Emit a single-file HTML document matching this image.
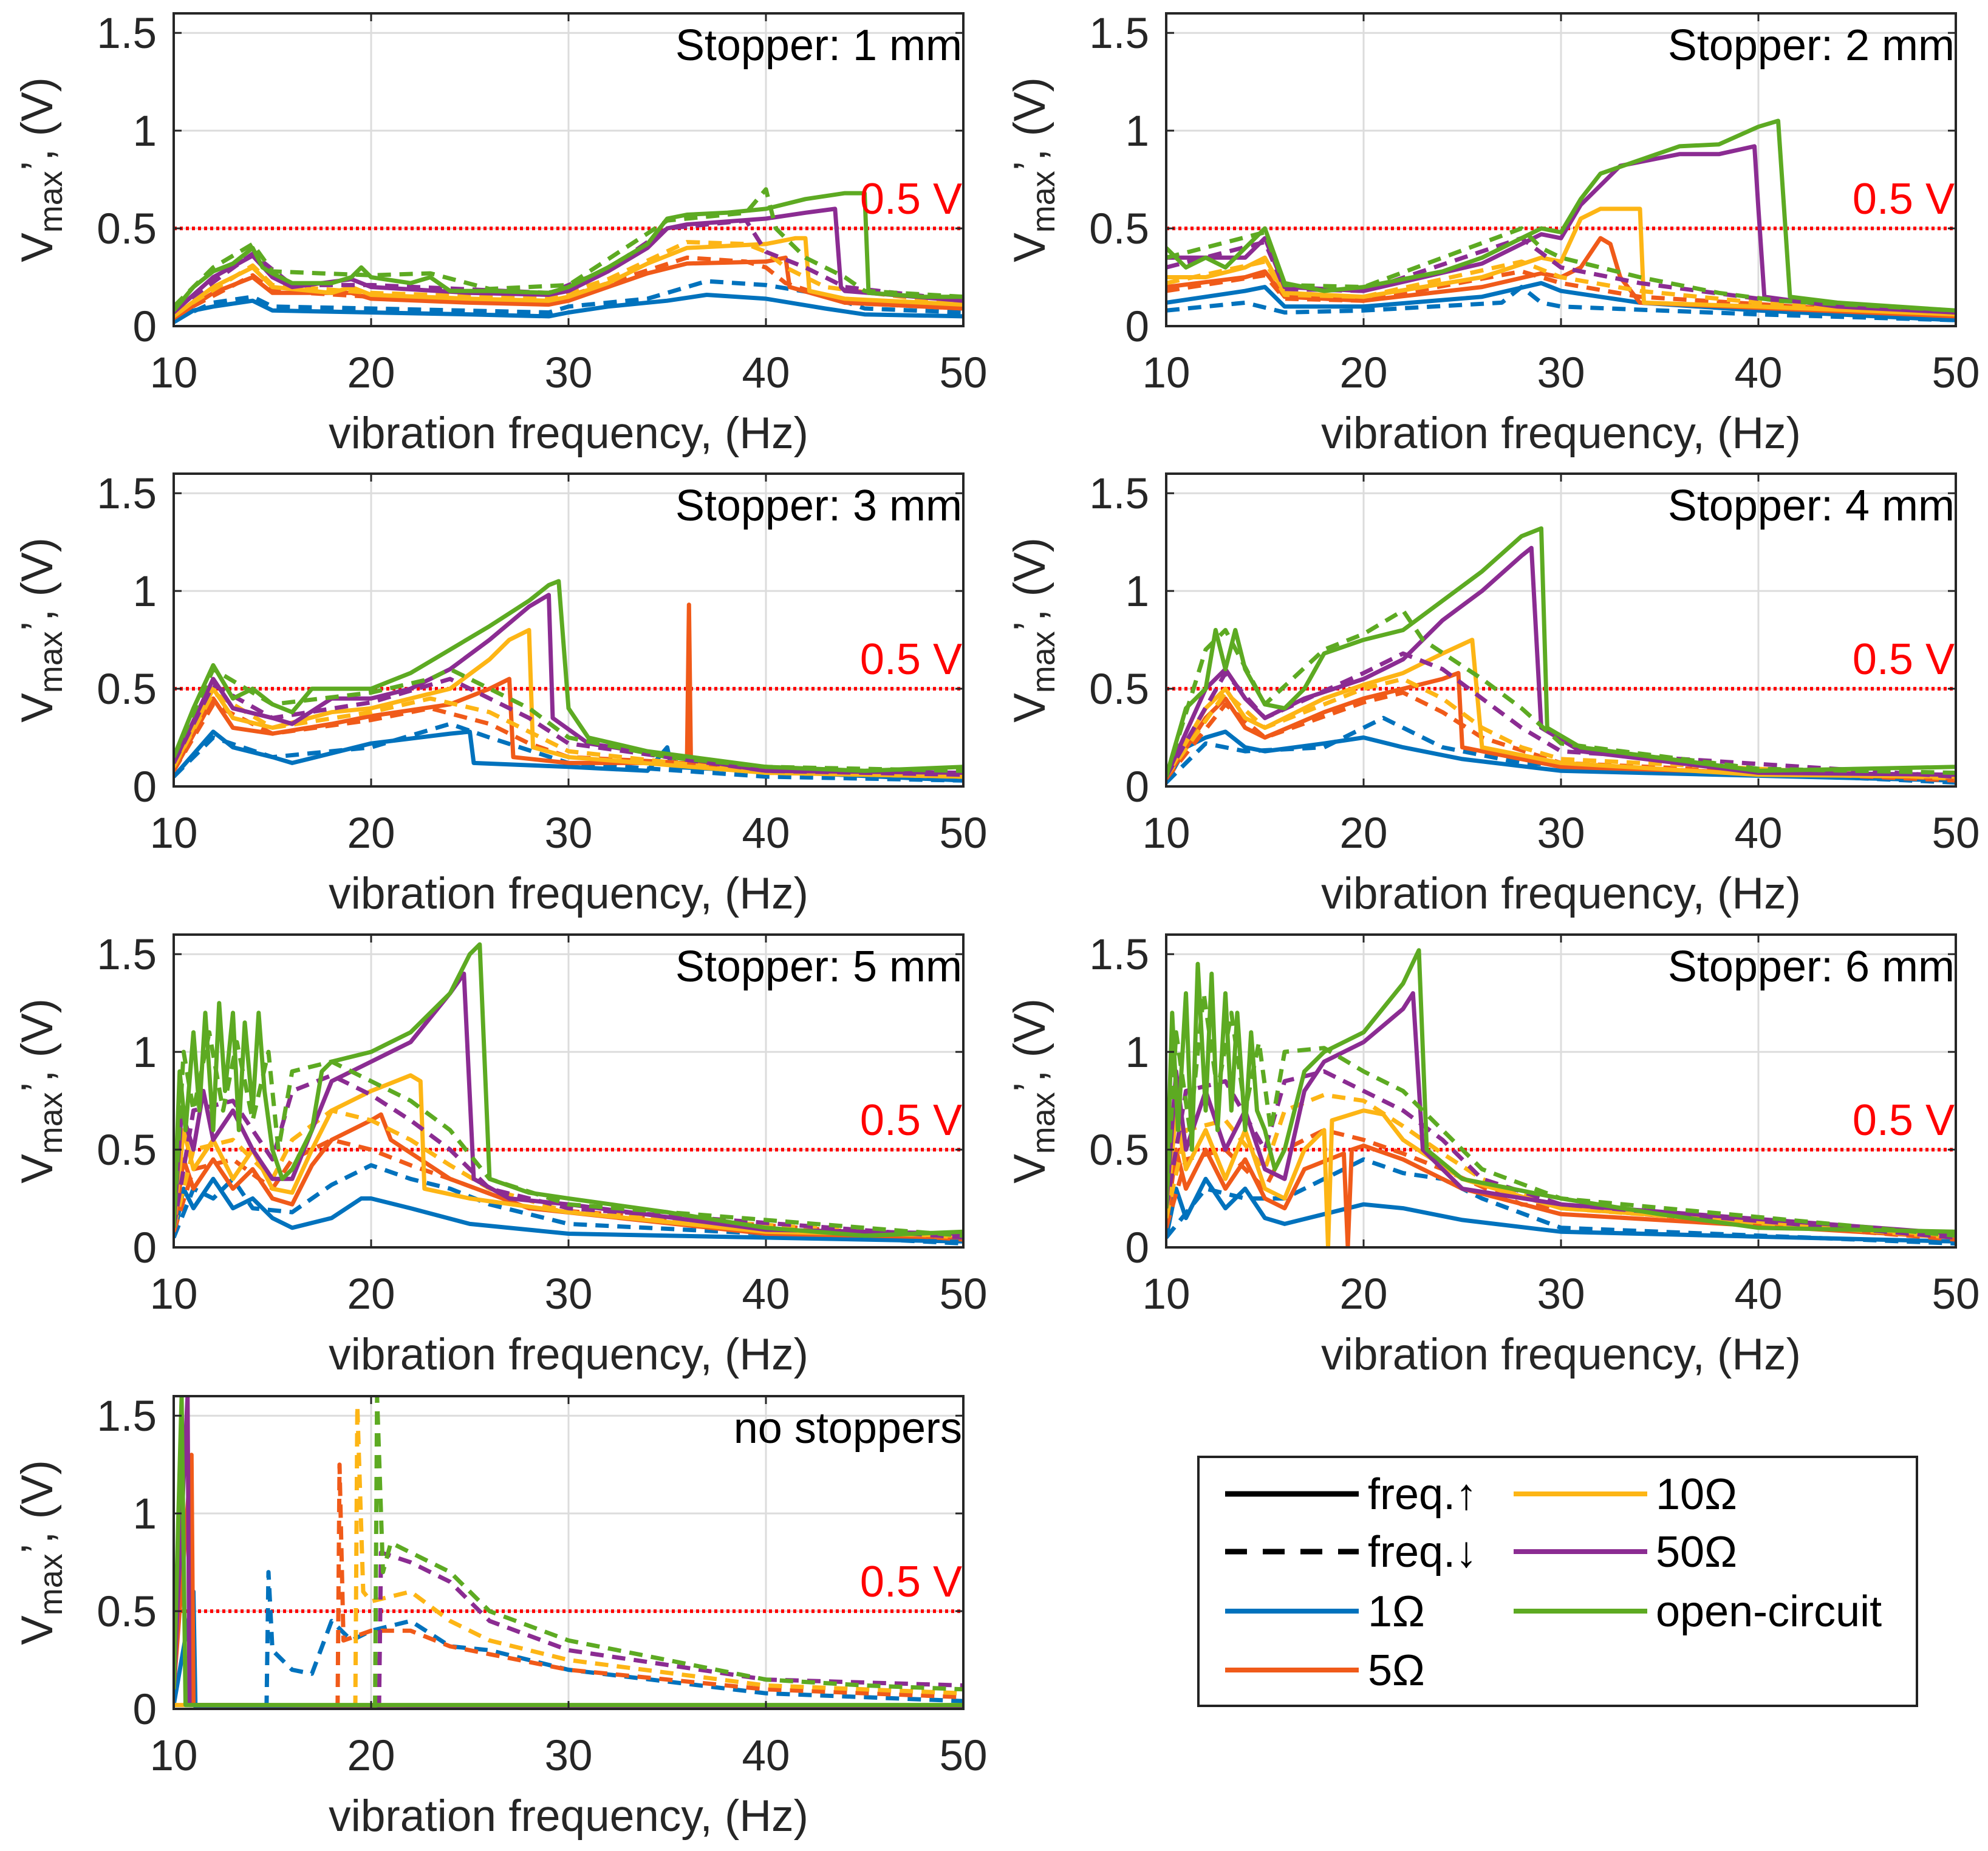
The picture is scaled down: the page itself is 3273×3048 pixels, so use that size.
<!DOCTYPE html>
<html><head><meta charset="utf-8"><style>
html,body{margin:0;padding:0;background:#fff;}
svg{display:block;font-family:"Liberation Sans",sans-serif;}
</style></head><body>
<svg id="fig" width="3273" height="3048" viewBox="0 0 3273 3048" xmlns="http://www.w3.org/2000/svg">
<rect width="3273" height="3048" fill="#fff"/>
<g>
<rect x="1973" y="2399" width="1183" height="410" fill="#fff" stroke="#222" stroke-width="4"/>
<line x1="2017" y1="2460" x2="2237" y2="2460" stroke="#000" stroke-width="9"/>
<text x="2252" y="2485" font-size="72">freq.↑</text>
<line x1="2017" y1="2555" x2="2237" y2="2555" stroke="#000" stroke-width="9" stroke-dasharray="36,26"/>
<text x="2252" y="2580" font-size="72">freq.↓</text>
<line x1="2017" y1="2653" x2="2237" y2="2653" stroke="#0072BD" stroke-width="8"/>
<text x="2252" y="2678" font-size="72">1Ω</text>
<line x1="2017" y1="2750" x2="2237" y2="2750" stroke="#F05A19" stroke-width="8"/>
<text x="2252" y="2775" font-size="72">5Ω</text>
<line x1="2492" y1="2460" x2="2712" y2="2460" stroke="#FDB515" stroke-width="8"/>
<text x="2726" y="2485" font-size="72">10Ω</text>
<line x1="2492" y1="2555" x2="2712" y2="2555" stroke="#8B2C92" stroke-width="8"/>
<text x="2726" y="2580" font-size="72">50Ω</text>
<line x1="2492" y1="2653" x2="2712" y2="2653" stroke="#5DAA22" stroke-width="8"/>
<text x="2726" y="2678" font-size="72">open-circuit</text>
</g>
</svg>
<script>
const xTicks=[10,20,30,40,50];
const yTicks=[0,0.5,1,1.5];
const yTickLabels=["0","0.5","1","1.5"];
const panelTitles=["Stopper: 1 mm","Stopper: 2 mm","Stopper: 3 mm","Stopper: 4 mm","Stopper: 5 mm","Stopper: 6 mm","no stoppers"];
const seriesNames=["1ohm","5ohm","10ohm","50ohm","open"];
const seriesColors=["#0072BD","#F05A19","#FDB515","#8B2C92","#5DAA22"];
const threshold=0.5;
const P1=[
[[[10,0.02],[11,0.08],[12,0.1],[14,0.13],[15,0.08],[20,0.07],[25,0.06],[29,0.05],[30,0.07],[32,0.1],[35,0.13],[37,0.16],[40,0.14],[43,0.09],[45,0.06],[50,0.05]],
 [[10,0.03],[12,0.12],[14,0.15],[15,0.1],[20,0.09],[29,0.07],[30,0.1],[34,0.14],[37,0.23],[40,0.21],[43,0.16],[45,0.09],[50,0.07]]],
[[[10,0.04],[12,0.17],[14,0.25],[15,0.17],[19,0.17],[20,0.14],[25,0.12],[29,0.11],[30,0.13],[32,0.2],[34,0.27],[36,0.32],[40,0.33],[41,0.35],[41.2,0.2],[44,0.12],[50,0.09]],
 [[10,0.05],[14,0.26],[15,0.18],[20,0.15],[29,0.12],[32,0.22],[36,0.35],[39,0.33],[40,0.3],[41,0.22],[44,0.12],[50,0.09]]],
[[[10,0.05],[12,0.2],[14,0.3],[15,0.2],[18,0.17],[19,0.2],[20,0.16],[25,0.14],[29,0.13],[30,0.15],[32,0.22],[34,0.32],[36,0.4],[40,0.42],[41.5,0.45],[42,0.45],[42.2,0.18],[44,0.14],[50,0.11]],
 [[10,0.06],[14,0.31],[15,0.21],[20,0.17],[29,0.14],[32,0.24],[36,0.43],[39,0.42],[40,0.38],[41,0.3],[43,0.2],[50,0.11]]],
[[[10,0.07],[12,0.25],[14,0.36],[15,0.25],[16,0.2],[19,0.24],[20,0.2],[25,0.17],[29,0.16],[30,0.18],[32,0.28],[34,0.4],[35,0.5],[36,0.52],[40,0.55],[42,0.58],[43.5,0.6],[43.8,0.2],[44,0.18],[50,0.13]],
 [[10,0.08],[14,0.37],[16,0.21],[20,0.21],[29,0.17],[32,0.29],[35,0.5],[39,0.54],[40,0.38],[42,0.3],[44,0.2],[50,0.13]]],
[[[10,0.08],[11,0.2],[12,0.28],[13,0.32],[14,0.4],[14.5,0.3],[15,0.27],[16,0.22],[18,0.22],[19,0.25],[19.5,0.3],[20,0.25],[22,0.22],[23,0.25],[24,0.18],[26,0.18],[29,0.17],[30,0.2],[32,0.3],[34,0.42],[35,0.55],[36,0.57],[38,0.58],[40,0.6],[42,0.65],[44,0.68],[45,0.68],[45.2,0.17],[48,0.15],[50,0.15]],
 [[10,0.1],[12,0.3],[14,0.42],[15,0.28],[20,0.26],[23,0.27],[26,0.19],[30,0.21],[35,0.54],[39,0.58],[40,0.7],[40.5,0.5],[42,0.35],[44,0.25],[45,0.18],[50,0.15]]]];
const P2=[
[[[10,0.12],[14,0.18],[15,0.2],[16,0.1],[20,0.1],[26,0.15],[29,0.22],[30,0.18],[34,0.12],[40,0.08],[50,0.03]],
 [[10,0.08],[14,0.12],[16,0.07],[20,0.08],[27,0.12],[28,0.2],[29,0.12],[30,0.1],[40,0.06],[50,0.03]]],
[[[10,0.2],[14,0.25],[15,0.28],[16,0.15],[20,0.13],[26,0.2],[29,0.27],[30,0.25],[31,0.3],[32,0.45],[32.5,0.42],[33,0.25],[34,0.12],[50,0.05]],
 [[10,0.18],[15,0.26],[16,0.14],[20,0.13],[28,0.28],[30,0.22],[34,0.15],[50,0.05]]],
[[[10,0.25],[12,0.25],[14,0.3],[15,0.35],[16,0.17],[20,0.15],[26,0.25],[29,0.35],[30,0.33],[31,0.55],[32,0.6],[34,0.6],[34.2,0.12],[40,0.1],[50,0.06]],
 [[10,0.22],[15,0.33],[16,0.16],[20,0.15],[28,0.33],[30,0.25],[34,0.18],[40,0.12],[50,0.06]]],
[[[10,0.35],[14,0.35],[15,0.45],[16,0.2],[20,0.18],[26,0.32],[29,0.47],[30,0.45],[31,0.62],[33,0.82],[36,0.88],[38,0.88],[39.8,0.92],[40,0.6],[40.3,0.15],[44,0.1],[50,0.07]],
 [[10,0.3],[15,0.43],[16,0.19],[20,0.18],[28,0.45],[30,0.3],[34,0.22],[40,0.14],[50,0.07]]],
[[[10,0.4],[11,0.3],[12,0.35],[13,0.3],[14,0.4],[15,0.5],[16,0.22],[18,0.18],[20,0.2],[24,0.28],[26,0.35],[28,0.45],[29,0.5],[30,0.48],[31,0.65],[32,0.78],[34,0.85],[36,0.92],[38,0.93],[40,1.02],[41,1.05],[41.3,0.6],[41.6,0.15],[44,0.12],[50,0.08]],
 [[10,0.35],[15,0.48],[16,0.21],[20,0.2],[28,0.5],[29,0.4],[30,0.35],[34,0.25],[38,0.17],[41,0.13],[50,0.08]]]];
const P3=[
[[[10,0.05],[12,0.28],[13,0.2],[15,0.15],[16,0.12],[20,0.22],[24,0.27],[25,0.28],[25.2,0.12],[30,0.1],[34,0.08],[35,0.2],[35.2,0.1],[50,0.03]],
 [[10,0.05],[12,0.25],[15,0.15],[20,0.2],[24,0.32],[26,0.25],[30,0.12],[40,0.05],[50,0.03]]],
[[[10,0.08],[12,0.45],[13,0.3],[15,0.27],[18,0.32],[20,0.36],[24,0.42],[26,0.5],[27,0.55],[27.2,0.15],[30,0.12],[36,0.12],[36.1,0.93],[36.2,0.12],[40,0.08],[50,0.05]],
 [[10,0.08],[12,0.42],[15,0.27],[20,0.34],[23,0.4],[26,0.32],[28,0.22],[30,0.15],[50,0.05]]],
[[[10,0.1],[12,0.5],[13,0.35],[15,0.3],[18,0.38],[20,0.4],[24,0.5],[26,0.65],[27,0.75],[28,0.8],[28.2,0.2],[30,0.15],[40,0.07],[50,0.05]],
 [[10,0.1],[12,0.48],[15,0.3],[20,0.38],[23,0.45],[26,0.38],[28,0.28],[30,0.18],[40,0.07],[50,0.05]]],
[[[10,0.12],[12,0.55],[13,0.4],[15,0.35],[16,0.32],[18,0.45],[20,0.45],[22,0.5],[24,0.6],[26,0.75],[28,0.92],[29,0.98],[29.2,0.35],[31,0.22],[40,0.08],[50,0.07]],
 [[10,0.12],[12,0.52],[15,0.35],[20,0.43],[24,0.55],[26,0.45],[28,0.35],[30,0.22],[40,0.08],[50,0.06]]],
[[[10,0.15],[11,0.4],[12,0.62],[13,0.45],[14,0.5],[15,0.42],[16,0.38],[17,0.5],[18,0.5],[20,0.5],[22,0.58],[24,0.7],[26,0.82],[28,0.95],[29,1.03],[29.5,1.05],[30,0.4],[31,0.25],[34,0.18],[40,0.1],[45,0.08],[50,0.1]],
 [[10,0.15],[12,0.6],[15,0.42],[20,0.48],[23,0.55],[24,0.6],[26,0.5],[28,0.4],[30,0.25],[35,0.15],[40,0.1],[50,0.08]]]];
const P4=[
[[[10,0.02],[11,0.2],[12,0.25],[13,0.28],[14,0.2],[15,0.18],[18,0.22],[20,0.25],[22,0.2],[25,0.14],[30,0.08],[50,0.03]],
 [[10,0.02],[12,0.22],[14,0.18],[18,0.2],[20,0.3],[21,0.35],[22,0.3],[24,0.2],[28,0.12],[50,0.02]]],
[[[10,0.04],[12,0.35],[13,0.45],[14,0.3],[15,0.25],[18,0.38],[20,0.45],[22,0.5],[24,0.55],[24.8,0.58],[25,0.2],[30,0.1],[50,0.04]],
 [[10,0.04],[13,0.42],[15,0.25],[20,0.43],[22,0.48],[24,0.38],[26,0.25],[30,0.12],[50,0.03]]],
[[[10,0.05],[12,0.4],[13,0.5],[14,0.35],[15,0.3],[18,0.45],[20,0.52],[22,0.58],[24,0.68],[25.5,0.75],[26,0.2],[30,0.12],[40,0.06],[50,0.05]],
 [[10,0.05],[13,0.48],[15,0.3],[20,0.5],[22,0.55],[24,0.45],[26,0.3],[28,0.2],[30,0.14],[50,0.04]]],
[[[10,0.05],[12,0.5],[13,0.6],[14,0.45],[15,0.35],[17,0.45],[20,0.55],[22,0.65],[24,0.85],[26,1.0],[28,1.18],[28.5,1.22],[29,0.3],[31,0.18],[40,0.07],[50,0.06]],
 [[10,0.05],[13,0.58],[15,0.35],[20,0.58],[22,0.68],[24,0.6],[26,0.45],[28,0.3],[30,0.18],[50,0.05]]],
[[[10,0.05],[11,0.4],[12,0.5],[12.5,0.8],[13,0.6],[13.5,0.8],[14,0.6],[15,0.42],[16,0.4],[17,0.5],[18,0.68],[20,0.75],[22,0.8],[24,0.95],[26,1.1],[28,1.28],[29,1.32],[29.3,0.3],[31,0.2],[40,0.08],[50,0.1]],
 [[10,0.05],[12,0.7],[13,0.8],[15,0.42],[18,0.7],[20,0.78],[22,0.9],[23,0.75],[26,0.55],[28,0.4],[30,0.22],[40,0.09],[50,0.07]]]];
const P5=[
[[[10,0.05],[10.5,0.3],[11,0.2],[12,0.35],[13,0.2],[14,0.25],[15,0.15],[16,0.1],[18,0.15],[19.5,0.25],[20,0.25],[22,0.2],[25,0.12],[30,0.07],[50,0.03]],
 [[10,0.05],[11,0.3],[12,0.25],[13,0.35],[14,0.2],[16,0.18],[18,0.32],[20,0.42],[22,0.35],[24,0.3],[26,0.22],[30,0.12],[50,0.02]]],
[[[10,0.08],[10.5,0.45],[11,0.3],[12,0.45],[13,0.3],[14,0.4],[15,0.25],[16,0.22],[17,0.42],[18,0.55],[20,0.65],[20.5,0.68],[21,0.55],[24,0.35],[28,0.2],[40,0.07],[50,0.05]],
 [[10,0.08],[11,0.4],[13,0.45],[15,0.3],[16,0.45],[18,0.55],[20,0.5],[22,0.42],[24,0.35],[28,0.2],[50,0.04]]],
[[[10,0.1],[10.5,0.6],[11,0.4],[12,0.55],[13,0.35],[14,0.5],[15,0.3],[16,0.28],[17,0.5],[18,0.7],[20,0.8],[22,0.88],[22.5,0.85],[22.7,0.3],[25,0.25],[30,0.18],[40,0.08],[50,0.06]],
 [[10,0.1],[11,0.5],[13,0.55],[15,0.35],[16,0.55],[18,0.7],[20,0.65],[22,0.55],[24,0.42],[26,0.3],[30,0.18],[50,0.05]]],
[[[10,0.1],[10.4,0.7],[11,0.5],[11.5,0.8],[12,0.55],[13,0.7],[14,0.5],[15,0.35],[16,0.35],[17,0.6],[18,0.85],[20,0.95],[22,1.05],[24,1.3],[24.7,1.4],[25.2,0.35],[27,0.25],[30,0.22],[40,0.09],[50,0.07]],
 [[10,0.1],[11,0.7],[13,0.75],[15,0.45],[16,0.8],[18,0.88],[20,0.78],[22,0.65],[24,0.5],[26,0.3],[30,0.2],[50,0.05]]],
[[[10,0.1],[10.3,0.9],[10.6,0.6],[11,1.1],[11.3,0.7],[11.6,1.2],[12,0.6],[12.3,1.25],[12.6,0.8],[13,1.2],[13.3,0.6],[13.6,1.15],[14,0.7],[14.3,1.2],[14.6,0.8],[15,0.5],[15.5,0.35],[16,0.4],[17,0.6],[17.5,0.9],[18,0.95],[20,1.0],[22,1.1],[24,1.3],[25,1.5],[25.5,1.55],[26,0.35],[28,0.28],[30,0.25],[35,0.18],[40,0.1],[45,0.06],[50,0.08]],
 [[10,0.1],[10.5,1.0],[11,0.7],[11.8,1.1],[12.5,0.7],[13.2,1.05],[14,0.65],[14.8,1.0],[15.3,0.5],[16,0.9],[18,0.95],[20,0.85],[22,0.75],[24,0.6],[26,0.35],[30,0.22],[50,0.06]]]];
const P6=[
[[[10,0.05],[10.5,0.3],[11,0.15],[12,0.35],[13,0.2],[14,0.3],[15,0.15],[16,0.12],[18,0.17],[20,0.22],[22,0.2],[25,0.14],[30,0.08],[50,0.03]],
 [[10,0.05],[12,0.3],[14,0.25],[16,0.25],[18,0.35],[20,0.45],[22,0.38],[24,0.35],[26,0.25],[30,0.1],[50,0.02]]],
[[[10,0.1],[10.5,0.5],[11,0.3],[12,0.5],[13,0.3],[14,0.45],[15,0.25],[16,0.2],[17,0.4],[19,0.48],[19.2,0.0],[19.4,0.5],[20,0.52],[22,0.45],[25,0.3],[30,0.17],[50,0.05]],
 [[10,0.1],[11,0.45],[13,0.5],[15,0.3],[16,0.5],[18,0.6],[20,0.55],[22,0.48],[24,0.4],[28,0.22],[50,0.04]]],
[[[10,0.15],[10.5,0.7],[11,0.4],[12,0.6],[13,0.35],[14,0.6],[15,0.3],[16,0.25],[17,0.5],[18,0.6],[18.2,0.0],[18.4,0.65],[20,0.7],[21,0.68],[22,0.55],[25,0.35],[30,0.2],[50,0.06]],
 [[10,0.15],[11,0.6],[13,0.65],[15,0.4],[16,0.7],[18,0.78],[20,0.75],[22,0.62],[24,0.48],[26,0.35],[30,0.2],[50,0.05]]],
[[[10,0.2],[10.5,0.9],[11,0.5],[12,0.8],[13,0.5],[14,0.7],[15,0.4],[16,0.35],[17,0.8],[18,0.95],[20,1.05],[22,1.22],[22.5,1.3],[23,0.5],[25,0.3],[30,0.22],[50,0.07]],
 [[10,0.2],[11,0.8],[13,0.85],[15,0.5],[16,0.85],[18,0.9],[20,0.8],[22,0.7],[24,0.55],[26,0.35],[30,0.22],[50,0.05]]],
[[[10,0.2],[10.3,1.2],[10.6,0.6],[11,1.3],[11.3,0.5],[11.6,1.45],[12,0.7],[12.3,1.4],[12.6,0.6],[13,1.3],[13.3,0.7],[13.6,1.2],[14,0.6],[14.3,1.1],[14.6,0.7],[15,0.6],[15.5,0.4],[16,0.5],[17,0.9],[18,1.0],[20,1.1],[22,1.35],[22.8,1.52],[23.2,0.5],[25,0.35],[30,0.25],[35,0.17],[40,0.1],[50,0.08]],
 [[10,0.2],[10.5,1.1],[11.2,0.6],[11.9,1.3],[12.6,0.8],[13.3,1.2],[14,0.7],[14.7,1.05],[15.3,0.6],[16,1.0],[18,1.02],[20,0.9],[22,0.8],[24,0.6],[26,0.4],[30,0.25],[50,0.06]]]];
const P7=[
[[[10,0.02],[11,0.6],[11.1,0.01],[50,0.01]],
 [[14.7,0.0],[14.8,0.7],[15,0.3],[16,0.2],[17,0.18],[18,0.45],[19,0.35],[20,0.4],[22,0.45],[24,0.32],[26,0.3],[30,0.2],[40,0.08],[50,0.04]]],
[[[10,0.1],[10.9,1.3],[11,0.02],[50,0.01]],
 [[18.3,0.0],[18.4,1.25],[18.6,0.35],[20,0.4],[22,0.4],[24,0.32],[26,0.28],[30,0.2],[40,0.1],[50,0.06]]],
[[[10,0.02],[50,0.01]],
 [[19.2,0.0],[19.3,1.55],[19.6,0.6],[20,0.55],[22,0.6],[24,0.45],[26,0.35],[30,0.25],[40,0.12],[50,0.08]]],
[[[10,0.1],[10.7,1.6],[10.8,0.02],[50,0.01]],
 [[20.4,0.0],[20.5,0.8],[22,0.75],[24,0.65],[26,0.45],[30,0.3],[40,0.15],[50,0.12]]],
[[[10,0.1],[10.4,1.6],[10.6,0.02],[50,0.02]],
 [[20.2,0.0],[20.3,1.6],[20.6,0.7],[21,0.85],[22,0.8],[24,0.7],[26,0.5],[30,0.35],[35,0.25],[40,0.15],[45,0.12],[50,0.1]]]];
const panelData=[P1,P2,P3,P4,P5,P6,P7];

const NS="http://www.w3.org/2000/svg";
const svg=document.getElementById('fig');
const colX=[286,1920], rowY=[22,780,1539,2299], PW=1300, PH=515;
const xMin=10,xMax=50,yMin=0,yMax=1.6;
function mk(tag,attrs,parent){const e=document.createElementNS(NS,tag);for(const k in attrs)e.setAttribute(k,attrs[k]);parent.appendChild(e);return e;}
panelData.forEach((P,pi)=>{
  const L=colX[pi%2], T=rowY[Math.floor(pi/2)];
  const xs=v=>L+(v-xMin)/(xMax-xMin)*PW;
  const ys=v=>T+PH-(v-yMin)/(yMax-yMin)*PH;
  const g=mk('g',{},svg);
  
  
  const cid='clip'+pi;
  const cp=mk('clipPath',{id:cid},g);mk('rect',{x:L,y:T,width:PW,height:PH},cp);
  xTicks.forEach(t=>{const l=mk('line',{x1:xs(t),x2:xs(t),y1:T,y2:T+PH,stroke:'#dcdcdc','stroke-width':3},g);
    
    });
  yTicks.forEach(t=>{const l=mk('line',{x1:L,x2:L+PW,y1:ys(t),y2:ys(t),stroke:'#dcdcdc','stroke-width':3},g);
    
    });
  const thr=mk('line',{x1:L,x2:L+PW,y1:ys(threshold),y2:ys(threshold),stroke:'#ff0000','stroke-width':6,'stroke-dasharray':'5,5'},g);
  
  
  const sg=mk('g',{'clip-path':'url(#'+cid+')'},g);
  P.forEach((pair,si)=>{
    pair.forEach((pts,di)=>{
      const d=pts.map((p,i)=>(i?'L':'M')+xs(p[0]).toFixed(1)+','+ys(p[1]).toFixed(1)).join('');
      const path=mk('path',{d:d,fill:'none',stroke:seriesColors[si],'stroke-width':7,'stroke-linejoin':'round'},sg);
      if(di===1)path.setAttribute('stroke-dasharray','22,14');
      
      
    });
  });
  const box=mk('rect',{x:L,y:T,width:PW,height:PH,fill:'none',stroke:'#262626','stroke-width':4},g);
  
  
  xTicks.forEach(t=>{mk('line',{x1:xs(t),x2:xs(t),y1:T+PH,y2:T+PH-13,stroke:'#262626','stroke-width':3},g);
    mk('line',{x1:xs(t),x2:xs(t),y1:T,y2:T+13,stroke:'#262626','stroke-width':3},g);
    const tx=mk('text',{x:xs(t),y:T+PH+101,'font-size':71,'text-anchor':'middle',fill:'#262626'},g);tx.textContent=t;
    
    });
  yTicks.forEach((t,i)=>{mk('line',{x1:L,x2:L+13,y1:ys(t),y2:ys(t),stroke:'#262626','stroke-width':3},g);
    mk('line',{x1:L+PW,x2:L+PW-13,y1:ys(t),y2:ys(t),stroke:'#262626','stroke-width':3},g);
    const tx=mk('text',{x:L-28,y:ys(t)+25,'font-size':71,'text-anchor':'end',fill:'#262626'},g);tx.textContent=yTickLabels[i];
    
    });
  const xl=mk('text',{x:L+PW/2,y:T+PH+201,'font-size':73,'text-anchor':'middle',fill:'#262626'},g);
  xl.textContent='vibration frequency, (Hz)';
  
  
  const yl=mk('text',{x:0,y:0,'font-size':73,'text-anchor':'middle',fill:'#262626',transform:'translate('+(L-200)+','+(T+PH/2)+') rotate(-90)'},g);
  yl.innerHTML='V<tspan font-size="54" dy="16">max</tspan><tspan dy="-16">’, (V)</tspan>';
  
  
  const tl=mk('text',{x:L+PW-2,y:T+77,'font-size':72,'text-anchor':'end',fill:'#000'},g);
  tl.textContent=panelTitles[pi];
  
  
  const rl=mk('text',{x:L+PW-2,y:ys(threshold)-24,'font-size':72,'text-anchor':'end',fill:'#ff0000'},g);
  rl.textContent='0.5 V';
  
  
});
</script>
</body></html>
